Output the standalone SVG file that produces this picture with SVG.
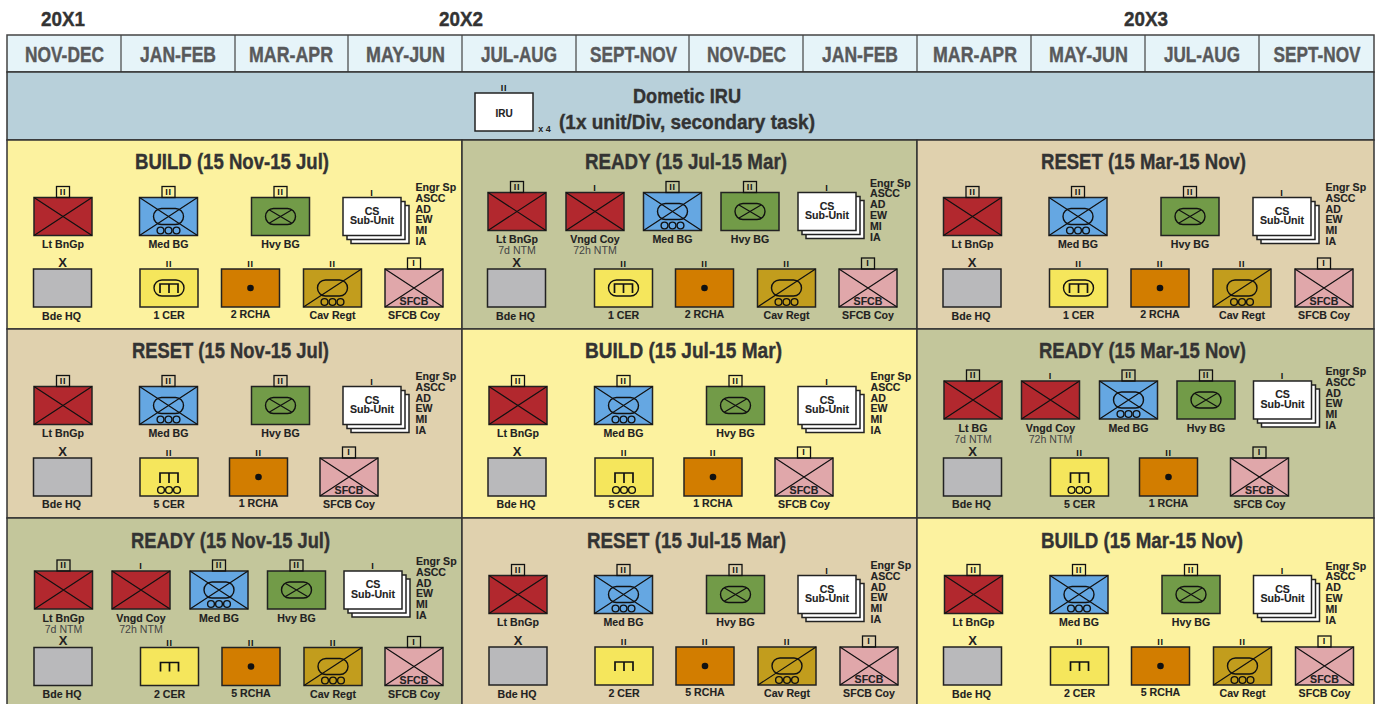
<svg xmlns="http://www.w3.org/2000/svg" width="1380" height="704" viewBox="0 0 1380 704">
<style>
text{font-family:"Liberation Sans",Arial,sans-serif;font-weight:700;text-anchor:middle;fill:#222}
.y{font-size:21px;fill:#333;stroke:#333;stroke-width:.4}
.h{font-size:21.500px;fill:#58595b;stroke:#58595b;stroke-width:.4}
.ti{font-size:22.500px;fill:#333;stroke:#333;stroke-width:.4}
.l{font-size:10.600px;stroke:#222;stroke-width:.1}
.s{font-size:10.600px;font-weight:400;fill:#444}
.g{font-size:9px;letter-spacing:.8px;fill:#111}
.x{font-size:13px}
.e{font-size:10.600px;text-anchor:start;stroke:#222;stroke-width:.1}
.b{stroke:#222;stroke-width:1.500}
.f{fill:none;stroke:#111;stroke-width:1.200}
.o{fill:none;stroke:#111;stroke-width:1.400}
.m{fill:none;stroke:#111;stroke-width:1.700}
.pn{stroke:#333;stroke-width:1.500}
</style>
<defs>
<path id="xx" class="f" d="M0 0L58 38M58 0L0 38"/>
<g id="ci"><circle class="o" cx="21" cy="33" r="3.400"/><circle class="o" cx="29" cy="33" r="3.400"/><circle class="o" cx="37" cy="33" r="3.400"/></g>
<rect id="t" class="f" x="22.500" y="-11" width="13" height="11" style="stroke-width:1.300"/>
<g id="inf"><rect class="b" width="58" height="38" fill="#b2282e"/><use href="#xx"/></g>
<g id="med"><rect class="b" width="58" height="38" fill="#65a7e2"/><use href="#xx"/><rect class="o" x="14" y="11" width="30" height="16" rx="8"/><use href="#ci"/></g>
<g id="hvy"><rect class="b" width="58" height="38" fill="#729b48"/><rect class="o" x="14" y="11" width="30" height="16" rx="8"/><path class="f" d="M18 12.500L40 25.500M40 12.500L18 25.500"/></g>
<g id="hq"><rect class="b" width="58" height="38" fill="#b9b9bb"/></g>
<g id="cer0"><rect class="b" width="58" height="38" fill="#f5e65c"/><path class="m" d="M20 24V15H38V24M29 15V24"/></g>
<g id="cer1"><use href="#cer0"/><rect class="o" x="14" y="11" width="30" height="16" rx="8"/></g>
<g id="cer5"><rect class="b" width="58" height="38" fill="#f5e65c"/><path class="m" d="M20 25V15H38V25M29 15V25"/><use href="#ci" y="-1"/></g>
<g id="rch"><rect class="b" width="58" height="38" fill="#d27d00"/><circle cx="29" cy="19" r="3.300" fill="#111"/></g>
<g id="cav"><rect class="b" width="58" height="38" fill="#c29d1d"/><path class="f" d="M0 38L58 0"/><rect class="o" x="14" y="11" width="30" height="16" rx="8"/><use href="#ci"/></g>
<g id="sf"><rect class="b" width="58" height="38" fill="#e0a7aa"/><use href="#xx"/></g>
<g id="cs"><rect class="b" x="8" y="8" width="58" height="38" fill="#fff"/><rect class="b" x="4" y="4" width="58" height="38" fill="#fff"/><rect class="b" width="58" height="38" fill="#fff"/></g>
</defs>

<g id="years">
<text class="y" x="63" y="26" textLength="44" lengthAdjust="spacingAndGlyphs">20X1</text>
<text class="y" x="461" y="26" textLength="44" lengthAdjust="spacingAndGlyphs">20X2</text>
<text class="y" x="1146" y="26" textLength="44" lengthAdjust="spacingAndGlyphs">20X3</text>
</g>
<g id="header">
<rect x="7" y="35" width="1367" height="37" fill="#e6f4f9" stroke="#444" stroke-width="1.500"/>
<path d="M121 35V72M235 35V72M348 35V72M462 35V72M576 35V72M689 35V72M803 35V72M917 35V72M1031 35V72M1145 35V72M1259 35V72" stroke="#444" stroke-width="1.200"/>
<text class="h" x="64.500" y="62" textLength="79" lengthAdjust="spacingAndGlyphs">NOV-DEC</text>
<text class="h" x="178" y="62" textLength="76" lengthAdjust="spacingAndGlyphs">JAN-FEB</text>
<text class="h" x="291" y="62" textLength="84" lengthAdjust="spacingAndGlyphs">MAR-APR</text>
<text class="h" x="405.500" y="62" textLength="79" lengthAdjust="spacingAndGlyphs">MAY-JUN</text>
<text class="h" x="519" y="62" textLength="76" lengthAdjust="spacingAndGlyphs">JUL-AUG</text>
<text class="h" x="633.500" y="62" textLength="87" lengthAdjust="spacingAndGlyphs">SEPT-NOV</text>
<text class="h" x="746.500" y="62" textLength="79" lengthAdjust="spacingAndGlyphs">NOV-DEC</text>
<text class="h" x="860" y="62" textLength="76" lengthAdjust="spacingAndGlyphs">JAN-FEB</text>
<text class="h" x="975" y="62" textLength="84" lengthAdjust="spacingAndGlyphs">MAR-APR</text>
<text class="h" x="1088.500" y="62" textLength="79" lengthAdjust="spacingAndGlyphs">MAY-JUN</text>
<text class="h" x="1202" y="62" textLength="76" lengthAdjust="spacingAndGlyphs">JUL-AUG</text>
<text class="h" x="1317" y="62" textLength="87" lengthAdjust="spacingAndGlyphs">SEPT-NOV</text>
</g>
<g id="iru-band">
<rect class="pn" x="7" y="72" width="1367" height="68" fill="#b8d0da"/>
<text class="y" x="687" y="103" textLength="108" lengthAdjust="spacingAndGlyphs">Dometic IRU</text>
<text class="y" x="687" y="128.500" textLength="256" lengthAdjust="spacingAndGlyphs">(1x unit/Div, secondary task)</text>
<text x="544.500" y="131.500" style="font-size:9px">x 4</text>
</g>
<g id="iru" transform="translate(475 93)"><rect class="b" width="58" height="38" fill="#fff"/><text class="g" x="29" y="-2">II</text><text class="l" x="29" y="24" style="font-size:10px">IRU</text></g>

<g id="panels">
<rect class="pn" x="7" y="140" width="455" height="189" fill="#fcf29f"/>
<rect class="pn" x="462" y="140" width="455" height="189" fill="#c3c69b"/>
<rect class="pn" x="917" y="140" width="457" height="189" fill="#e0d1ae"/>
<rect class="pn" x="7" y="329" width="455" height="189" fill="#e0d1ae"/>
<rect class="pn" x="462" y="329" width="455" height="189" fill="#fcf29f"/>
<rect class="pn" x="917" y="329" width="457" height="189" fill="#c3c69b"/>
<rect class="pn" x="7" y="518" width="455" height="187" fill="#c3c69b"/>
<rect class="pn" x="462" y="518" width="455" height="187" fill="#e0d1ae"/>
<rect class="pn" x="917" y="518" width="457" height="187" fill="#fcf29f"/>
<text class="ti" x="232" y="169" textLength="194" lengthAdjust="spacingAndGlyphs">BUILD (15 Nov-15 Jul)</text>
<text class="ti" x="686" y="168.500" textLength="202" lengthAdjust="spacingAndGlyphs">READY (15 Jul-15 Mar)</text>
<text class="ti" x="1143.500" y="169" textLength="205" lengthAdjust="spacingAndGlyphs">RESET (15 Mar-15 Nov)</text>
<text class="ti" x="230.500" y="358" textLength="197" lengthAdjust="spacingAndGlyphs">RESET (15 Nov-15 Jul)</text>
<text class="ti" x="683.500" y="358" textLength="197" lengthAdjust="spacingAndGlyphs">BUILD (15 Jul-15 Mar)</text>
<text class="ti" x="1142.500" y="358" textLength="207" lengthAdjust="spacingAndGlyphs">READY (15 Mar-15 Nov)</text>
<text class="ti" x="230.500" y="548" textLength="199" lengthAdjust="spacingAndGlyphs">READY (15 Nov-15 Jul)</text>
<text class="ti" x="686.500" y="548" textLength="199" lengthAdjust="spacingAndGlyphs">RESET (15 Jul-15 Mar)</text>
<text class="ti" x="1142" y="548" textLength="202" lengthAdjust="spacingAndGlyphs">BUILD (15 Mar-15 Nov)</text>
</g>

<g id="p1">
<g id="p1-lt" transform="translate(34 197.500)"><use href="#inf"/><use href="#t"/><text class="g" x="29" y="-3">II</text><text class="l" x="29" y="50.500">Lt BnGp</text></g>
<g id="p1-med" transform="translate(139.500 197.500)"><use href="#med"/><use href="#t"/><text class="g" x="29" y="-3">II</text><text class="l" x="29" y="50.500">Med BG</text></g>
<g id="p1-hvy" transform="translate(251.500 197.500)"><use href="#hvy"/><use href="#t"/><text class="g" x="29" y="-3">II</text><text class="l" x="29" y="50.500">Hvy BG</text></g>
<g id="p1-cs" transform="translate(343 197.500)"><use href="#cs"/><text class="g" x="29" y="-2">I</text><text class="l" x="29" y="17">CS</text><text class="l" x="29" y="26.500">Sub-Unit</text><text class="e" x="72.500" y="-6.500">Engr Sp<tspan x="72.500" dy="10.800">ASCC</tspan><tspan x="72.500" dy="10.800">AD</tspan><tspan x="72.500" dy="10.800">EW</tspan><tspan x="72.500" dy="10.800">MI</tspan><tspan x="72.500" dy="10.800">IA</tspan></text></g>
<g id="p1-hq" transform="translate(33.500 269)"><use href="#hq"/><text class="x" x="29" y="-2.500">X</text><text class="l" x="28" y="51">Bde HQ</text></g>
<g id="p1-cer" transform="translate(140 269)"><use href="#cer1"/><text class="g" x="29" y="-2">II</text><text class="l" x="29" y="50">1 CER</text></g>
<g id="p1-rcha" transform="translate(221.500 269)"><use href="#rch"/><text class="g" x="29" y="-2">II</text><text class="l" x="29" y="49">2 RCHA</text></g>
<g id="p1-cav" transform="translate(303.500 269)"><use href="#cav"/><text class="g" x="29" y="-2">II</text><text class="l" x="29" y="50">Cav Regt</text></g>
<g id="p1-sfcb" transform="translate(385 269)"><use href="#sf"/><use href="#t"/><text class="g" x="29" y="-3">I</text><text class="l" x="29" y="36">SFCB</text><text class="l" x="29" y="50">SFCB Coy</text></g>
</g>

<g id="p2">
<g id="p2-lt" transform="translate(488 192.500)"><use href="#inf"/><use href="#t"/><text class="g" x="29" y="-3">II</text><text class="l" x="29" y="50.500">Lt BnGp</text><text class="s" x="29" y="61.500">7d NTM</text></g>
<g id="p2-vn" transform="translate(566 192.500)"><use href="#inf"/><text class="g" x="29" y="-2">I</text><text class="l" x="29" y="50.500">Vngd Coy</text><text class="s" x="29" y="61.500">72h NTM</text></g>
<g id="p2-med" transform="translate(643.500 192.500)"><use href="#med"/><use href="#t"/><text class="g" x="29" y="-3">II</text><text class="l" x="29" y="50.500">Med BG</text></g>
<g id="p2-hvy" transform="translate(721 192.500)"><use href="#hvy"/><use href="#t"/><text class="g" x="29" y="-3">II</text><text class="l" x="29" y="50.500">Hvy BG</text></g>
<g id="p2-cs" transform="translate(798 192.500)"><use href="#cs"/><text class="g" x="29" y="-2">I</text><text class="l" x="29" y="17">CS</text><text class="l" x="29" y="26.500">Sub-Unit</text><text class="e" x="72" y="-6">Engr Sp<tspan x="72" dy="10.800">ASCC</tspan><tspan x="72" dy="10.800">AD</tspan><tspan x="72" dy="10.800">EW</tspan><tspan x="72" dy="10.800">MI</tspan><tspan x="72" dy="10.800">IA</tspan></text></g>
<g id="p2-hq" transform="translate(487.500 269)"><use href="#hq"/><text class="x" x="29" y="-2.500">X</text><text class="l" x="28" y="51">Bde HQ</text></g>
<g id="p2-cer" transform="translate(594.500 269)"><use href="#cer1"/><text class="g" x="29" y="-2">II</text><text class="l" x="29" y="50">1 CER</text></g>
<g id="p2-rcha" transform="translate(675.500 269)"><use href="#rch"/><text class="g" x="29" y="-2">II</text><text class="l" x="29" y="49">2 RCHA</text></g>
<g id="p2-cav" transform="translate(757.500 269)"><use href="#cav"/><text class="g" x="29" y="-2">II</text><text class="l" x="29" y="50">Cav Regt</text></g>
<g id="p2-sfcb" transform="translate(839 269)"><use href="#sf"/><use href="#t"/><text class="g" x="29" y="-3">I</text><text class="l" x="29" y="36">SFCB</text><text class="l" x="29" y="50">SFCB Coy</text></g>
</g>

<g id="p3">
<g id="p3-lt" transform="translate(943.500 197.500)"><use href="#inf"/><use href="#t"/><text class="g" x="29" y="-3">II</text><text class="l" x="29" y="50.500">Lt BnGp</text></g>
<g id="p3-med" transform="translate(1049 197.500)"><use href="#med"/><use href="#t"/><text class="g" x="29" y="-3">II</text><text class="l" x="29" y="50.500">Med BG</text></g>
<g id="p3-hvy" transform="translate(1161 197.500)"><use href="#hvy"/><use href="#t"/><text class="g" x="29" y="-3">II</text><text class="l" x="29" y="50.500">Hvy BG</text></g>
<g id="p3-cs" transform="translate(1253 197.500)"><use href="#cs"/><text class="g" x="29" y="-2">I</text><text class="l" x="29" y="17">CS</text><text class="l" x="29" y="26.500">Sub-Unit</text><text class="e" x="72.500" y="-6.500">Engr Sp<tspan x="72.500" dy="10.800">ASCC</tspan><tspan x="72.500" dy="10.800">AD</tspan><tspan x="72.500" dy="10.800">EW</tspan><tspan x="72.500" dy="10.800">MI</tspan><tspan x="72.500" dy="10.800">IA</tspan></text></g>
<g id="p3-hq" transform="translate(943 269)"><use href="#hq"/><text class="x" x="29" y="-2.500">X</text><text class="l" x="28" y="51">Bde HQ</text></g>
<g id="p3-cer" transform="translate(1049.500 269)"><use href="#cer1"/><text class="g" x="29" y="-2">II</text><text class="l" x="29" y="50">1 CER</text></g>
<g id="p3-rcha" transform="translate(1131 269)"><use href="#rch"/><text class="g" x="29" y="-2">II</text><text class="l" x="29" y="49">2 RCHA</text></g>
<g id="p3-cav" transform="translate(1213 269)"><use href="#cav"/><text class="g" x="29" y="-2">II</text><text class="l" x="29" y="50">Cav Regt</text></g>
<g id="p3-sfcb" transform="translate(1295 269)"><use href="#sf"/><use href="#t"/><text class="g" x="29" y="-3">I</text><text class="l" x="29" y="36">SFCB</text><text class="l" x="29" y="50">SFCB Coy</text></g>
</g>

<g id="p4">
<g id="p4-lt" transform="translate(34 386.500)"><use href="#inf"/><use href="#t"/><text class="g" x="29" y="-3">II</text><text class="l" x="29" y="50.500">Lt BnGp</text></g>
<g id="p4-med" transform="translate(139.500 386.500)"><use href="#med"/><use href="#t"/><text class="g" x="29" y="-3">II</text><text class="l" x="29" y="50.500">Med BG</text></g>
<g id="p4-hvy" transform="translate(251.500 386.500)"><use href="#hvy"/><use href="#t"/><text class="g" x="29" y="-3">II</text><text class="l" x="29" y="50.500">Hvy BG</text></g>
<g id="p4-cs" transform="translate(343 386.500)"><use href="#cs"/><text class="g" x="29" y="-2">I</text><text class="l" x="29" y="17">CS</text><text class="l" x="29" y="26.500">Sub-Unit</text><text class="e" x="72.500" y="-6.500">Engr Sp<tspan x="72.500" dy="10.800">ASCC</tspan><tspan x="72.500" dy="10.800">AD</tspan><tspan x="72.500" dy="10.800">EW</tspan><tspan x="72.500" dy="10.800">MI</tspan><tspan x="72.500" dy="10.800">IA</tspan></text></g>
<g id="p4-hq" transform="translate(33.500 458)"><use href="#hq"/><text class="x" x="29" y="-2.500">X</text><text class="l" x="28" y="50">Bde HQ</text></g>
<g id="p4-cer" transform="translate(140 458)"><use href="#cer5"/><text class="g" x="29" y="-2">II</text><text class="l" x="29" y="50">5 CER</text></g>
<g id="p4-rcha" transform="translate(229.500 458)"><use href="#rch"/><text class="g" x="29" y="-2">II</text><text class="l" x="29" y="49">1 RCHA</text></g>
<g id="p4-sfcb" transform="translate(320 458)"><use href="#sf"/><use href="#t"/><text class="g" x="29" y="-3">I</text><text class="l" x="29" y="36">SFCB</text><text class="l" x="29" y="50">SFCB Coy</text></g>
</g>

<g id="p5">
<g id="p5-lt" transform="translate(489 386.500)"><use href="#inf"/><use href="#t"/><text class="g" x="29" y="-3">II</text><text class="l" x="29" y="50.500">Lt BnGp</text></g>
<g id="p5-med" transform="translate(594.500 386.500)"><use href="#med"/><use href="#t"/><text class="g" x="29" y="-3">II</text><text class="l" x="29" y="50.500">Med BG</text></g>
<g id="p5-hvy" transform="translate(706.500 386.500)"><use href="#hvy"/><use href="#t"/><text class="g" x="29" y="-3">II</text><text class="l" x="29" y="50.500">Hvy BG</text></g>
<g id="p5-cs" transform="translate(798 386.500)"><use href="#cs"/><text class="g" x="29" y="-2">I</text><text class="l" x="29" y="17">CS</text><text class="l" x="29" y="26.500">Sub-Unit</text><text class="e" x="72.500" y="-6.500">Engr Sp<tspan x="72.500" dy="10.800">ASCC</tspan><tspan x="72.500" dy="10.800">AD</tspan><tspan x="72.500" dy="10.800">EW</tspan><tspan x="72.500" dy="10.800">MI</tspan><tspan x="72.500" dy="10.800">IA</tspan></text></g>
<g id="p5-hq" transform="translate(488 458)"><use href="#hq"/><text class="x" x="29" y="-2.500">X</text><text class="l" x="28" y="50">Bde HQ</text></g>
<g id="p5-cer" transform="translate(595 458)"><use href="#cer5"/><text class="g" x="29" y="-2">II</text><text class="l" x="29" y="50">5 CER</text></g>
<g id="p5-rcha" transform="translate(684 458)"><use href="#rch"/><text class="g" x="29" y="-2">II</text><text class="l" x="29" y="49">1 RCHA</text></g>
<g id="p5-sfcb" transform="translate(775 458)"><use href="#sf"/><use href="#t"/><text class="g" x="29" y="-3">I</text><text class="l" x="29" y="36">SFCB</text><text class="l" x="29" y="50">SFCB Coy</text></g>
</g>

<g id="p6">
<g id="p6-lt" transform="translate(944 381)"><use href="#inf"/><use href="#t"/><text class="g" x="29" y="-3">II</text><text class="l" x="29" y="50.500">Lt BG</text><text class="s" x="29" y="61.500">7d NTM</text></g>
<g id="p6-vn" transform="translate(1021.500 381)"><use href="#inf"/><text class="g" x="29" y="-2">I</text><text class="l" x="29" y="50.500">Vngd Coy</text><text class="s" x="29" y="61.500">72h NTM</text></g>
<g id="p6-med" transform="translate(1099.500 381)"><use href="#med"/><use href="#t"/><text class="g" x="29" y="-3">II</text><text class="l" x="29" y="50.500">Med BG</text></g>
<g id="p6-hvy" transform="translate(1177 381)"><use href="#hvy"/><use href="#t"/><text class="g" x="29" y="-3">II</text><text class="l" x="29" y="50.500">Hvy BG</text></g>
<g id="p6-cs" transform="translate(1253.500 381)"><use href="#cs"/><text class="g" x="29" y="-2">I</text><text class="l" x="29" y="17">CS</text><text class="l" x="29" y="26.500">Sub-Unit</text><text class="e" x="72" y="-6">Engr Sp<tspan x="72" dy="10.800">ASCC</tspan><tspan x="72" dy="10.800">AD</tspan><tspan x="72" dy="10.800">EW</tspan><tspan x="72" dy="10.800">MI</tspan><tspan x="72" dy="10.800">IA</tspan></text></g>
<g id="p6-hq" transform="translate(943.500 458)"><use href="#hq"/><text class="x" x="29" y="-2.500">X</text><text class="l" x="28" y="50">Bde HQ</text></g>
<g id="p6-cer" transform="translate(1050.500 458)"><use href="#cer5"/><text class="g" x="29" y="-2">II</text><text class="l" x="29" y="50">5 CER</text></g>
<g id="p6-rcha" transform="translate(1139.500 458)"><use href="#rch"/><text class="g" x="29" y="-2">II</text><text class="l" x="29" y="49">1 RCHA</text></g>
<g id="p6-sfcb" transform="translate(1230.500 458)"><use href="#sf"/><use href="#t"/><text class="g" x="29" y="-3">I</text><text class="l" x="29" y="36">SFCB</text><text class="l" x="29" y="50">SFCB Coy</text></g>
</g>

<g id="p7">
<g id="p7-lt" transform="translate(34.500 571)"><use href="#inf"/><use href="#t"/><text class="g" x="29" y="-3">II</text><text class="l" x="29" y="50.500">Lt BnGp</text><text class="s" x="29" y="61.500">7d NTM</text></g>
<g id="p7-vn" transform="translate(112 571)"><use href="#inf"/><text class="g" x="29" y="-2">I</text><text class="l" x="29" y="50.500">Vngd Coy</text><text class="s" x="29" y="61.500">72h NTM</text></g>
<g id="p7-med" transform="translate(190 571)"><use href="#med"/><use href="#t"/><text class="g" x="29" y="-3">II</text><text class="l" x="29" y="50.500">Med BG</text></g>
<g id="p7-hvy" transform="translate(267.500 571)"><use href="#hvy"/><use href="#t"/><text class="g" x="29" y="-3">II</text><text class="l" x="29" y="50.500">Hvy BG</text></g>
<g id="p7-cs" transform="translate(344 571)"><use href="#cs"/><text class="g" x="29" y="-2">I</text><text class="l" x="29" y="17">CS</text><text class="l" x="29" y="26.500">Sub-Unit</text><text class="e" x="72" y="-6">Engr Sp<tspan x="72" dy="10.800">ASCC</tspan><tspan x="72" dy="10.800">AD</tspan><tspan x="72" dy="10.800">EW</tspan><tspan x="72" dy="10.800">MI</tspan><tspan x="72" dy="10.800">IA</tspan></text></g>
<g id="p7-hq" transform="translate(34 647.500)"><use href="#hq"/><text class="x" x="29" y="-2.500">X</text><text class="l" x="28" y="50.500">Bde HQ</text></g>
<g id="p7-cer" transform="translate(140.500 647.500)"><use href="#cer0"/><text class="g" x="29" y="-2">II</text><text class="l" x="29" y="50.500">2 CER</text></g>
<g id="p7-rcha" transform="translate(222 647.500)"><use href="#rch"/><text class="g" x="29" y="-2">II</text><text class="l" x="29" y="49.500">5 RCHA</text></g>
<g id="p7-cav" transform="translate(304 647.500)"><use href="#cav"/><text class="g" x="29" y="-2">II</text><text class="l" x="29" y="50.500">Cav Regt</text></g>
<g id="p7-sfcb" transform="translate(385 647.500)"><use href="#sf"/><use href="#t"/><text class="g" x="29" y="-3">I</text><text class="l" x="29" y="36">SFCB</text><text class="l" x="29" y="50.500">SFCB Coy</text></g>
</g>

<g id="p8">
<g id="p8-lt" transform="translate(489 575.500)"><use href="#inf"/><use href="#t"/><text class="g" x="29" y="-3">II</text><text class="l" x="29" y="50.500">Lt BnGp</text></g>
<g id="p8-med" transform="translate(594.500 575.500)"><use href="#med"/><use href="#t"/><text class="g" x="29" y="-3">II</text><text class="l" x="29" y="50.500">Med BG</text></g>
<g id="p8-hvy" transform="translate(706.500 575.500)"><use href="#hvy"/><use href="#t"/><text class="g" x="29" y="-3">II</text><text class="l" x="29" y="50.500">Hvy BG</text></g>
<g id="p8-cs" transform="translate(798 575.500)"><use href="#cs"/><text class="g" x="29" y="-2">I</text><text class="l" x="29" y="17">CS</text><text class="l" x="29" y="26.500">Sub-Unit</text><text class="e" x="72.500" y="-6.500">Engr Sp<tspan x="72.500" dy="10.800">ASCC</tspan><tspan x="72.500" dy="10.800">AD</tspan><tspan x="72.500" dy="10.800">EW</tspan><tspan x="72.500" dy="10.800">MI</tspan><tspan x="72.500" dy="10.800">IA</tspan></text></g>
<g id="p8-hq" transform="translate(489 647)"><use href="#hq"/><text class="x" x="29" y="-2.500">X</text><text class="l" x="28" y="51">Bde HQ</text></g>
<g id="p8-cer" transform="translate(595 647)"><use href="#cer0"/><text class="g" x="29" y="-2">II</text><text class="l" x="29" y="50">2 CER</text></g>
<g id="p8-rcha" transform="translate(676 647)"><use href="#rch"/><text class="g" x="29" y="-2">II</text><text class="l" x="29" y="49">5 RCHA</text></g>
<g id="p8-cav" transform="translate(758 647)"><use href="#cav"/><text class="g" x="29" y="-2">II</text><text class="l" x="29" y="50">Cav Regt</text></g>
<g id="p8-sfcb" transform="translate(840 647)"><use href="#sf"/><use href="#t"/><text class="g" x="29" y="-3">I</text><text class="l" x="29" y="36">SFCB</text><text class="l" x="29" y="50">SFCB Coy</text></g>
</g>

<g id="p9">
<g id="p9-lt" transform="translate(944.500 575.500)"><use href="#inf"/><use href="#t"/><text class="g" x="29" y="-3">II</text><text class="l" x="29" y="50.500">Lt BnGp</text></g>
<g id="p9-med" transform="translate(1050 575.500)"><use href="#med"/><use href="#t"/><text class="g" x="29" y="-3">II</text><text class="l" x="29" y="50.500">Med BG</text></g>
<g id="p9-hvy" transform="translate(1162 575.500)"><use href="#hvy"/><use href="#t"/><text class="g" x="29" y="-3">II</text><text class="l" x="29" y="50.500">Hvy BG</text></g>
<g id="p9-cs" transform="translate(1253.500 575.500)"><use href="#cs"/><text class="g" x="29" y="-2">I</text><text class="l" x="29" y="17">CS</text><text class="l" x="29" y="26.500">Sub-Unit</text><text class="e" x="72" y="-6">Engr Sp<tspan x="72" dy="10.800">ASCC</tspan><tspan x="72" dy="10.800">AD</tspan><tspan x="72" dy="10.800">EW</tspan><tspan x="72" dy="10.800">MI</tspan><tspan x="72" dy="10.800">IA</tspan></text></g>
<g id="p9-hq" transform="translate(943.500 647)"><use href="#hq"/><text class="x" x="29" y="-2.500">X</text><text class="l" x="28" y="51">Bde HQ</text></g>
<g id="p9-cer" transform="translate(1050.500 647)"><use href="#cer0"/><text class="g" x="29" y="-2">II</text><text class="l" x="29" y="50">2 CER</text></g>
<g id="p9-rcha" transform="translate(1131.500 647)"><use href="#rch"/><text class="g" x="29" y="-2">II</text><text class="l" x="29" y="49">5 RCHA</text></g>
<g id="p9-cav" transform="translate(1213.500 647)"><use href="#cav"/><text class="g" x="29" y="-2">II</text><text class="l" x="29" y="50">Cav Regt</text></g>
<g id="p9-sfcb" transform="translate(1295.500 647)"><use href="#sf"/><use href="#t"/><text class="g" x="29" y="-3">I</text><text class="l" x="29" y="36">SFCB</text><text class="l" x="29" y="50">SFCB Coy</text></g>
</g>
</svg>
